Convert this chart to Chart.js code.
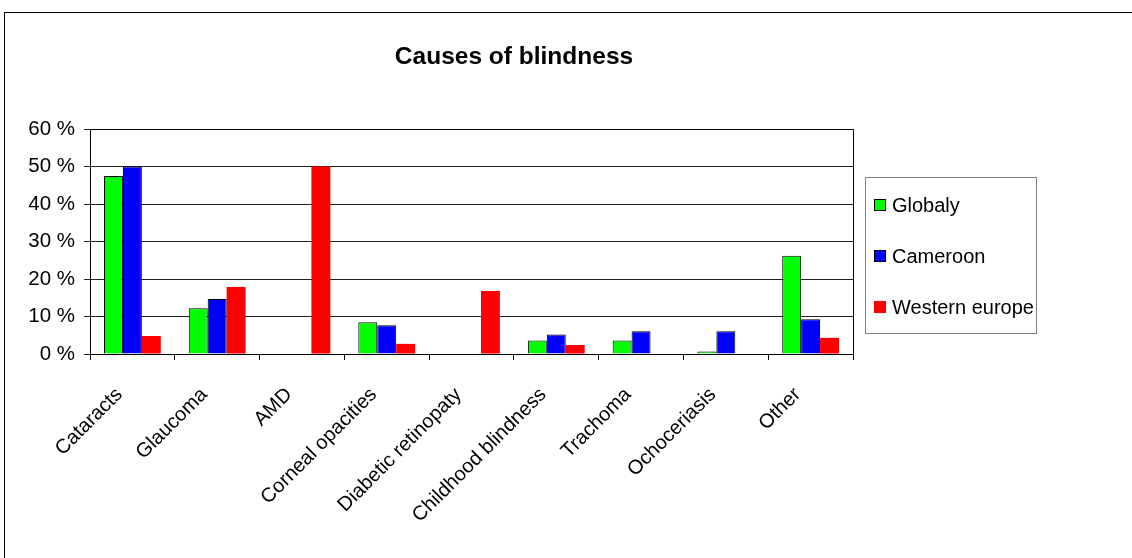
<!DOCTYPE html>
<html>
<head>
<meta charset="utf-8">
<script src="https://cdn.jsdelivr.net/npm/chart.js@4.4.0/dist/chart.umd.min.js"></script>
<style>
  html, body { margin: 0; padding: 0; background: #fff; }
  #wrap { width: 1132px; height: 558px; }
</style>
</head>
<body>
<div id="wrap"><canvas id="blindChart" width="1132" height="558"></canvas></div>
<script>
const causes = ["Cataracts", "Glaucoma", "AMD", "Corneal opacities", "Diabetic retinopaty",
  "Childhood blindness", "Trachoma", "Ochoceriasis", "Other"];
const globaly = [47.5, 12.2, 0, 8.5, 0, 3.6, 3.6, 0.7, 26.2];
const cameroon = [50, 14.7, 0, 7.7, 0, 5.2, 6.1, 6.1, 9.3];
const westernEurope = [4.8, 17.9, 50, 2.7, 16.8, 2.4, 0, 0, 4.3];
const yTicks = [0, 10, 20, 30, 40, 50, 60];

const FONT = "'Liberation Sans', Arial, sans-serif";

// frame, title, plot border and legend box drawn by hand
const decorations = {
  id: "decorations",
  beforeDraw(chart) {
    const ctx = chart.ctx;
    ctx.save();
    ctx.fillStyle = "#fff";
    ctx.fillRect(0, 0, chart.width, chart.height);
    ctx.strokeStyle = "#000";
    ctx.lineWidth = 1;
    ctx.strokeRect(4.5, 12.5, chart.width + 10, chart.height + 10);
    ctx.restore();
  },
  afterDraw(chart) {
    const ctx = chart.ctx;
    const a = chart.chartArea;
    ctx.save();
    // plot border top + right
    ctx.strokeStyle = "#000";
    ctx.lineWidth = 1;
    ctx.beginPath();
    ctx.moveTo(a.left, a.top + 0.5);
    ctx.lineTo(a.right + 0.5, a.top + 0.5);
    ctx.lineTo(a.right + 0.5, a.bottom);
    ctx.stroke();

    // title
    ctx.fillStyle = "#000";
    ctx.font = "bold 24.5px " + FONT;
    ctx.textAlign = "center";
    ctx.textBaseline = "middle";
    ctx.fillText("Causes of blindness", 514, 57);

    // legend
    ctx.strokeStyle = "#808080";
    ctx.strokeRect(865.5, 177.5, 171, 156);
    ctx.font = "20px " + FONT;
    ctx.textAlign = "left";
    chart.data.datasets.forEach((ds, i) => {
      const y = 205 + i * 51;
      ctx.fillStyle = ds.backgroundColor;
      ctx.fillRect(874, y - 6, 12, 12);
      if (ds.borderWidth) {
        ctx.strokeStyle = "#000";
        ctx.strokeRect(874.5, y - 5.5, 11, 11);
      }
      ctx.fillStyle = "#000";
      ctx.fillText(ds.label, 892, y + 1);
    });
    ctx.restore();
  }
};

new Chart(document.getElementById("blindChart"), {
  type: "bar",
  data: {
    labels: causes,
    datasets: [
      { label: "Globaly", data: globaly, backgroundColor: "#00ff00", borderColor: "#000", borderWidth: 1 },
      { label: "Cameroon", data: cameroon, backgroundColor: "#0000ff", borderColor: "#000", borderWidth: 1 },
      { label: "Western europe", data: westernEurope, backgroundColor: "#ff0000", borderWidth: 0 }
    ]
  },
  options: {
    responsive: false,
    animation: false,
    layout: { padding: { left: 0, right: 279, top: 129, bottom: 0 } },
    plugins: {
      legend: { display: false },
      title: { display: false },
      tooltip: { enabled: false }
    },
    datasets: {
      bar: { categoryPercentage: 0.67, barPercentage: 1 }
    },
    scales: {
      x: {
        grid: { display: true, drawOnChartArea: false, drawTicks: true, tickLength: 6, color: "#000", offset: true },
        border: { color: "#000" },
        ticks: {
          color: "#000",
          font: { family: FONT, size: 20 },
          minRotation: 45,
          maxRotation: 45,
          padding: 23,
          labelOffset: -13
        },
        afterFit(scale) { scale.height = 204; }
      },
      y: {
        min: 0,
        max: 60,
        afterBuildTicks(scale) { scale.ticks = yTicks.map(v => ({ value: v })); },
        grid: { color: "#222", tickLength: 6, drawTicks: true },
        border: { color: "#000" },
        ticks: {
          color: "#000",
          font: { family: FONT, size: 20.5 },
          padding: 9,
          callback: v => v + " %"
        },
        afterFit(scale) { scale.width = 90; }
      }
    }
  },
  plugins: [decorations]
});
</script>
</body>
</html>
